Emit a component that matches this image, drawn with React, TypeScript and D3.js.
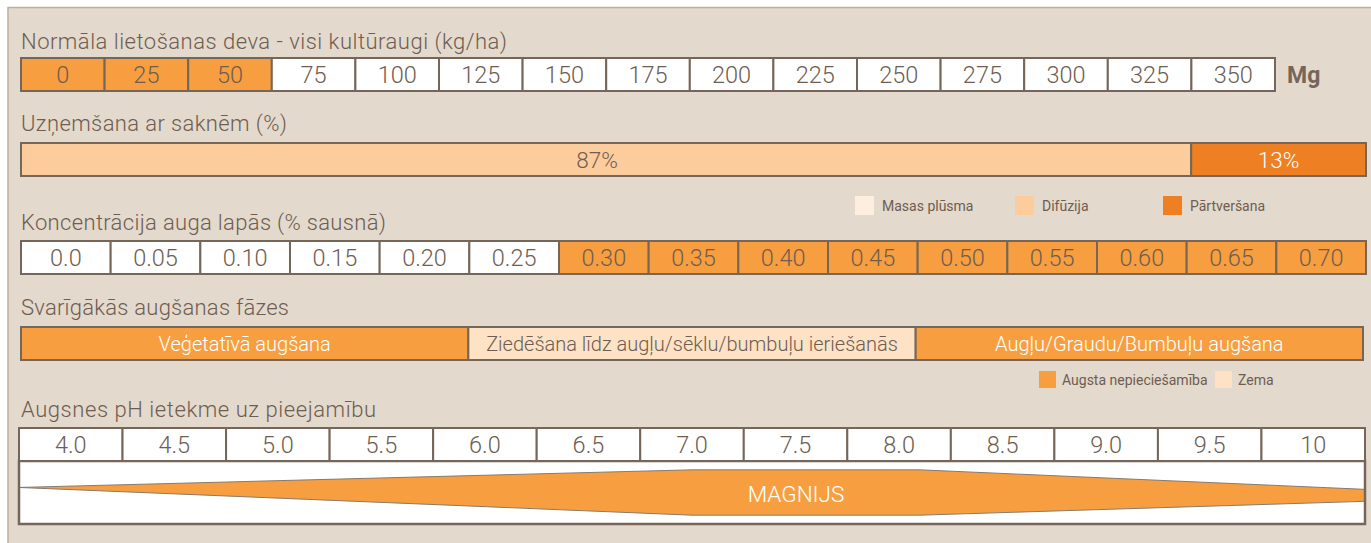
import React from "react";
import * as d3 from "d3";

// ---------- DATA ----------
const doseTicks = [0, 25, 50, 75, 100, 125, 150, 175, 200, 225, 250, 275, 300, 325, 350];
const doseNormalMax = 50;
const nutrient = "Mg";

const uptakeLabels = ["Masas plūsma", "Difūzija", "Pārtveršana"];
const uptakeValues = [0, 87, 13];

const concTicks = ["0.0", "0.05", "0.10", "0.15", "0.20", "0.25", "0.30", "0.35", "0.40", "0.45", "0.50", "0.55", "0.60", "0.65", "0.70"];
const concOptimumMin = 0.3;

const phaseLabels = ["Veģetatīvā augšana", "Ziedēšana līdz augļu/sēklu/bumbuļu ieriešanās", "Augļu/Graudu/Bumbuļu augšana"];
const phaseNeed = ["high", "low", "high"];
const needLabels = ["Augsta nepieciešamība", "Zema"];

const phTicks = ["4.0", "4.5", "5.0", "5.5", "6.0", "6.5", "7.0", "7.5", "8.0", "8.5", "9.0", "9.5", "10"];
// availability band: pH, upper edge, lower edge (0 = top of band, 100 = bottom)
const mgPh = [3.75, 7.0, 8.1, 10.25];
const mgTop = [42, 14, 14, 45];
const mgBottom = [42, 86, 86, 64];
const elementName = "MAGNIJS";

const titles = [
  "Normāla lietošanas deva - visi kultūraugi (kg/ha)",
  "Uzņemšana ar saknēm (%)",
  "Koncentrācija auga lapās (% sausnā)",
  "Svarīgākās augšanas fāzes",
  "Augsnes pH ietekme uz pieejamību",
];

// ---------- STYLE ----------
const C = {
  panel: "#e4d9cd",
  panelBorder: "#bdaea1",
  stroke: "#76665a",
  text: "#6e5d50",
  orange: "#f79f40",
  darkOrange: "#ee7f22",
  peach: "#fdcc9c",
  pale: "#feeedf",
  zema: "#fde2c6",
};
const FONT = "Roboto, 'Open Sans', sans-serif";

export default function App() {
  const W = 1371, H = 543;
  const rowH = 33;

  const doseY = 58;
  const doseX = d3.scaleBand<number>().domain(doseTicks).range([21, 1275]);

  const upY = 143;
  const upX = d3.scaleLinear().domain([0, 100]).range([21, 1366]);
  const stacked: { label: string; v0: number; v1: number; color: string; textColor: string }[] = [];
  const upColors = [C.pale, C.peach, C.darkOrange];
  const upText = [C.text, C.text, "#ffffff"];
  let acc = 0;
  uptakeValues.forEach((v, i) => {
    stacked.push({ label: uptakeLabels[i], v0: acc, v1: acc + v, color: upColors[i], textColor: upText[i] });
    acc += v;
  });

  const concY = 241;
  const concX = d3.scaleBand<string>().domain(concTicks).range([21, 1366]);

  const phY = 327;
  const phaseX = d3.scaleBand<string>().domain(phaseLabels).range([21, 1363]);

  const pHY = 428;
  const bandTop = pHY + rowH;
  const bandBottom = 524;
  const phX = d3.scaleBand<string>().domain(phTicks).range([19, 1365]);
  const phLin = d3.scaleLinear().domain([3.75, 10.25]).range([19, 1365]);
  const bandY = d3.scaleLinear().domain([0, 100]).range([bandTop, bandBottom]);
  const areaData = mgPh.map((p, i) => ({ p, t: mgTop[i], b: mgBottom[i] }));
  const areaGen = d3
    .area<{ p: number; t: number; b: number }>()
    .x((d) => phLin(d.p))
    .y0((d) => bandY(d.b))
    .y1((d) => bandY(d.t));
  const topLine = d3.line<{ p: number; t: number; b: number }>().x((d) => phLin(d.p)).y((d) => bandY(d.t));
  const botLine = d3.line<{ p: number; t: number; b: number }>().x((d) => phLin(d.p)).y((d) => bandY(d.b));

  const titleY = [49, 131, 230, 315, 417];
  const titleW = [486, 266, 365, 268, 355];

  return (
    <svg width={W} height={H} style={{ position: "absolute", left: 0, top: 0, background: "#ffffff" }} fontFamily={FONT} fontWeight={300}>
      <rect x={8} y={7.5} width={W} height={H} fill={C.panel} stroke={C.panelBorder} strokeWidth={1.5} />

      {titles.map((t, i) => (
        <text key={t} x={21} y={titleY[i]} fontSize={22} fill={C.text} textLength={titleW[i]} lengthAdjust="spacing">
          {t}
        </text>
      ))}

      {doseTicks.map((d) => (
        <g key={d}>
          <rect x={doseX(d)} y={doseY} width={doseX.bandwidth()} height={rowH} fill={d <= doseNormalMax ? C.orange : "#ffffff"} stroke={C.stroke} strokeWidth={2} />
          <text x={(doseX(d) as number) + doseX.bandwidth() / 2} y={doseY + rowH / 2} dy="0.36em" textAnchor="middle" fontSize={23.5} fill={C.text}>
            {d}
          </text>
        </g>
      ))}
      <text x={1287} y={doseY + rowH / 2} dy="0.36em" fontSize={23} fontWeight={700} fill={C.stroke}>
        {nutrient}
      </text>

      {stacked.filter((s) => s.v1 > s.v0).map((s, i) => (
        <g key={s.label}>
          <rect x={upX(s.v0)} y={upY} width={upX(s.v1) - upX(s.v0)} height={rowH} fill={s.color} stroke={C.stroke} strokeWidth={2} />
          <text x={(upX(s.v0) + upX(s.v1)) / 2 - (i === 0 ? 9 : 0)} y={upY + rowH / 2} dy="0.36em" textAnchor="middle" fontSize={22.5} fill={s.textColor}>
            {s.v1 - s.v0}%
          </text>
        </g>
      ))}
      {uptakeLabels.map((l, i) => {
        const lx = [855, 1015, 1163][i];
        return (
          <g key={l}>
            <rect x={lx} y={196} width={19} height={19} fill={upColors[i]} />
            <text x={lx + 27} y={206} dy="0.36em" fontSize={14} fontWeight={400} fill={C.text}>
              {l}
            </text>
          </g>
        );
      })}

      {concTicks.map((c) => (
        <g key={c}>
          <rect x={concX(c)} y={concY} width={concX.bandwidth()} height={rowH} fill={+c >= concOptimumMin ? C.orange : "#ffffff"} stroke={C.stroke} strokeWidth={2} />
          <text x={(concX(c) as number) + concX.bandwidth() / 2} y={concY + rowH / 2} dy="0.36em" textAnchor="middle" fontSize={23.5} fill={C.text}>
            {c}
          </text>
        </g>
      ))}

      {phaseLabels.map((p, i) => (
        <g key={p}>
          <rect x={phaseX(p)} y={phY} width={phaseX.bandwidth()} height={rowH} fill={phaseNeed[i] === "high" ? C.orange : C.zema} stroke={C.stroke} strokeWidth={2} />
          <text x={(phaseX(p) as number) + phaseX.bandwidth() / 2} y={phY + rowH / 2} dy="0.36em" textAnchor="middle" fontSize={20} fill={phaseNeed[i] === "high" ? "#ffffff" : C.text}>
            {p}
          </text>
        </g>
      ))}
      {needLabels.map((l, i) => {
        const lx = [1039, 1215][i];
        return (
          <g key={l}>
            <rect x={lx} y={371} width={17} height={17} fill={i === 0 ? C.orange : C.zema} />
            <text x={lx + 23} y={379.5} dy="0.36em" fontSize={14} fontWeight={400} fill={C.text}>
              {l}
            </text>
          </g>
        );
      })}

      <rect x={19} y={bandTop} width={1365 - 19} height={bandBottom - bandTop} fill="#ffffff" />
      <path d={areaGen(areaData) || ""} fill={C.orange} />
      <path d={topLine(areaData) || ""} fill="none" stroke="#8a7a6c" strokeWidth={1} />
      <path d={botLine(areaData) || ""} fill="none" stroke="#8a7a6c" strokeWidth={1} />
      <rect x={19} y={bandTop} width={1365 - 19} height={bandBottom - bandTop} fill="none" stroke={C.stroke} strokeWidth={2.5} />
      {phTicks.map((p) => (
        <g key={p}>
          <rect x={phX(p)} y={pHY} width={phX.bandwidth()} height={rowH} fill="#ffffff" stroke={C.stroke} strokeWidth={2} />
          <text x={(phX(p) as number) + phX.bandwidth() / 2} y={pHY + rowH / 2} dy="0.36em" textAnchor="middle" fontSize={23.5} fill={C.text}>
            {p}
          </text>
        </g>
      ))}
      <text x={796} y={bandY(50) + 1} dy="0.36em" textAnchor="middle" fontSize={22.5} fill="#ffffff">
        {elementName}
      </text>
    </svg>
  );
}
